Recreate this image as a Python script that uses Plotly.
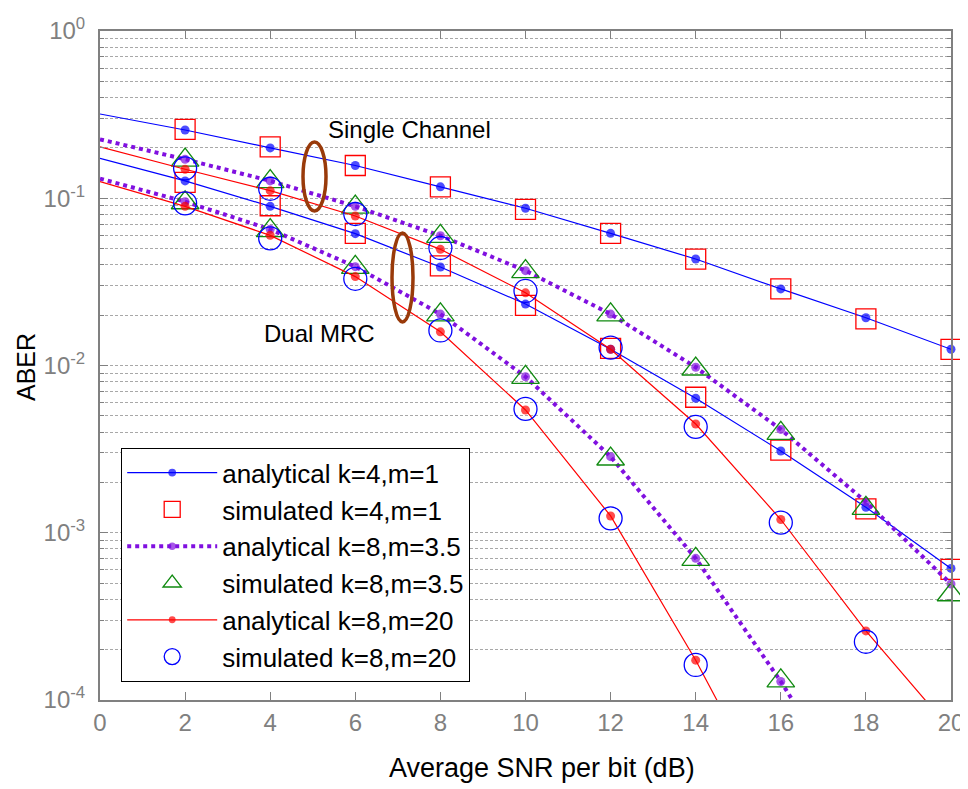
import plotly.graph_objects as go

# ---------------- data ----------------
snr = [0, 2, 4, 6, 8, 10, 12, 14, 16, 18, 20]          # Average SNR per bit (dB)
snr_sim = [2, 4, 6, 8, 10, 12, 14, 16, 18, 20]

# analytical k=4, m=1
ana_k4m1_single = [0.319, 0.256, 0.200, 0.157, 0.117, 0.0871, 0.0617, 0.0433, 0.0287, 0.0193, 0.0125]
ana_k4m1_dual = [0.173, 0.127, 0.0895, 0.0614, 0.0388, 0.0233, 0.0125, 0.00637, 0.00308, 0.00142, 0.000612]
# simulated k=4, m=1
sim_k4m1_single = [0.258, 0.203, 0.157, 0.117, 0.0859, 0.0617, 0.0432, 0.0287, 0.0190, 0.0125]
sim_k4m1_dual = [0.1245, 0.0902, 0.0617, 0.0394, 0.0229, 0.01267, 0.00646, 0.00312, 0.00139, 0.000604]

# analytical k=8, m=3.5
ana_k8m35_single = [0.225, 0.171, 0.127, 0.0895, 0.0597, 0.0369, 0.0203, 0.00976, 0.00415, 0.00153, 0.000494]
ana_k8m35_dual = [0.131, 0.0954, 0.0652, 0.039, 0.0203, 0.00857, 0.00285, 0.000703, 0.000129, 0.000020]
# simulated k=8, m=3.5
sim_k8m35_single = [0.169, 0.1256, 0.0886, 0.0592, 0.0364, 0.0201, 0.00953, 0.00393, 0.0014, 0.000426]
sim_k8m35_dual = [0.094, 0.064, 0.0386, 0.0201, 0.0085, 0.00276, 0.000693, 0.00013]

# analytical k=8, m=20
ana_k8m20_single = [0.203, 0.149, 0.111, 0.0783, 0.0495, 0.0272, 0.0125, 0.00447, 0.00120, 0.000259, 0.000066]
ana_k8m20_dual = [0.1256, 0.0895, 0.060, 0.034, 0.0159, 0.00542, 0.00126, 0.000173, 0.000019]
# simulated k=8, m=20
sim_k8m20_single = [0.151, 0.114, 0.0805, 0.0504, 0.0279, 0.0128, 0.0043, 0.00115, 0.000223]
sim_k8m20_dual = [0.0933, 0.0576, 0.033, 0.0162, 0.0055, 0.00122, 0.000162]

x_ticks = [0, 2, 4, 6, 8, 10, 12, 14, 16, 18, 20]
y_ticks = [1e-4, 1e-3, 1e-2, 1e-1, 1]
y_ticktext = ["10<sup>-4</sup>", "10<sup>-3</sup>", "10<sup>-2</sup>", "10<sup>-1</sup>", "10<sup>0</sup>"]
Y_MIN = 1e-4

# ---------------- helpers ----------------
def join_curves(xs_list, ys_list):
    xs, ys = [], []
    for i, (xa, ya) in enumerate(zip(xs_list, ys_list)):
        if i:
            xs.append(None); ys.append(None)
        xs += list(xa); ys += list(ya)
    return xs, ys

def analytical_sizes(xs, ys, size):
    # no marker at SNR = 0 (line start only) nor below the visible range
    out = []
    for xv, yv in zip(xs, ys):
        out.append(0 if (xv is None or xv == 0 or yv < Y_MIN) else size)
    return out

BLUE = "#0000FF"
RED = "#FF0000"
PURPLE = "#8010E0"
GREEN = "#108A10"
FONT = "Liberation Sans, Arial, sans-serif"

fig = go.Figure()

def add_analytical(name, singles, duals, color, width, dash, group):
    xs, ys = join_curves([snr[:len(singles)], snr[:len(duals)]], [singles, duals])
    fig.add_trace(go.Scatter(
        x=xs, y=ys, mode="lines+markers", name=name, legendgroup=group, cliponaxis=False,
        line=dict(color=color, width=width, dash=dash),
        marker=dict(color=color, size=analytical_sizes(xs, [0 if v is None else v for v in ys], 9),
                    symbol="circle", line=dict(width=0)),
    ))

def add_simulated(name, singles, duals, color, symbol, size, group):
    xs, ys = join_curves([snr_sim[:len(singles)], snr_sim[:len(duals)]], [singles, duals])
    fig.add_trace(go.Scatter(
        x=xs, y=ys, mode="markers", name=name, legendgroup=group, cliponaxis=False,
        marker=dict(color=color, size=size, symbol=symbol, line=dict(color=color, width=1.3)),
    ))

add_analytical("analytical k=4,m=1", ana_k4m1_single, ana_k4m1_dual, BLUE, 1.2, "solid", "g1")
add_simulated("simulated k=4,m=1", sim_k4m1_single, sim_k4m1_dual, RED, "square-open", 20, "g2")
add_analytical("analytical k=8,m=3.5", ana_k8m35_single, ana_k8m35_dual, PURPLE, 4, "dot", "g3")
add_simulated("simulated k=8,m=3.5", sim_k8m35_single, sim_k8m35_dual, GREEN, "triangle-up-open", 24, "g4")
add_analytical("analytical k=8,m=20", ana_k8m20_single, ana_k8m20_dual, RED, 1.2, "solid", "g5")
add_simulated("simulated k=8,m=20", sim_k8m20_single, sim_k8m20_dual, BLUE, "circle-open", 23, "g6")

# ---------------- layout ----------------
# The page body adds an 8 px offset; figure is sized so the plot lands where the reference has it.
OFF = 8
W, H = 968 - OFF, 789 - OFF
ML, MR, MT, MB = 100 - OFF, 17, 31 - OFF, 89
pw, ph = W - ML - MR, H - MT - MB

def px(xs):   # screen pixel -> paper x
    return (xs - OFF - ML) / pw

def py(ys):   # screen pixel -> paper y
    return (H - MB - (ys - OFF)) / ph

BROWN = "#993A0A"
shapes = [
    dict(type="circle", xref="paper", yref="paper",
         x0=px(303), x1=px(326), y0=py(211), y1=py(142),
         line=dict(color=BROWN, width=3.5)),
    dict(type="circle", xref="paper", yref="paper",
         x0=px(392), x1=px(413), y0=py(322), y1=py(233),
         line=dict(color=BROWN, width=3.5)),
]

annotations = [
    dict(text="Single Channel", xref="paper", yref="paper", x=px(326), y=py(129),
         xanchor="left", yanchor="middle", showarrow=False,
         font=dict(family=FONT, size=24, color="black")),
    dict(text="Dual MRC", xref="paper", yref="paper", x=px(262), y=py(333),
         xanchor="left", yanchor="middle", showarrow=False,
         font=dict(family=FONT, size=24, color="black")),
    dict(text="Average SNR per bit (dB)", xref="paper", yref="paper", x=px(542), y=py(768),
         xanchor="center", yanchor="middle", showarrow=False,
         font=dict(family=FONT, size=27, color="black")),
    dict(text="ABER", xref="paper", yref="paper", x=px(26), y=py(367), textangle=-90,
         xanchor="center", yanchor="middle", showarrow=False,
         font=dict(family=FONT, size=25, color="black")),
]

AXIS_GREY = "#808080"
GRID = "#A8A8A8"

fig.update_layout(
    width=W, height=H,
    margin=dict(l=ML, r=MR, t=MT, b=MB, pad=0, autoexpand=False),
    paper_bgcolor="white", plot_bgcolor="white",
    font=dict(family=FONT, color="black"),
    showlegend=True,
    legend=dict(
        x=px(121), y=py(448), xanchor="left", yanchor="top",
        bgcolor="white", bordercolor="black", borderwidth=1.2,
        font=dict(family=FONT, size=26, color="black"),
        traceorder="grouped", tracegroupgap=0, itemwidth=90,
    ),
    shapes=shapes,
    annotations=annotations,
    xaxis=dict(
        range=[0, 20], tickvals=x_ticks, ticks="inside", ticklen=8, tickcolor=AXIS_GREY,
        showline=True, linecolor=AXIS_GREY, linewidth=2, mirror="ticks",
        showgrid=False, zeroline=False, automargin=False,
        tickfont=dict(family=FONT, size=24, color=AXIS_GREY),
    ),
    yaxis=dict(
        type="log", range=[-4, 0], tickvals=y_ticks, ticktext=y_ticktext,
        ticks="inside", ticklen=8, tickcolor=AXIS_GREY,
        showline=True, linecolor=AXIS_GREY, linewidth=2, mirror="ticks",
        showgrid=True, gridcolor=GRID, griddash="3px,2px", gridwidth=1, zeroline=False,
        automargin=False,
        tickfont=dict(family=FONT, size=24, color=AXIS_GREY),
        ticklabelstandoff=8,
        minor=dict(dtick="D1", ticks="inside", ticklen=4, tickcolor=AXIS_GREY,
                   showgrid=True, gridcolor=GRID, griddash="3px,2px", gridwidth=1),
    ),
)

fig.write_html("out.html")
